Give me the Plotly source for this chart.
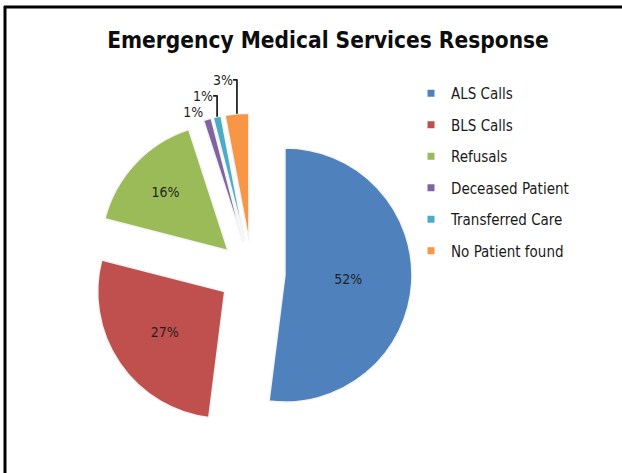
import plotly.graph_objects as go

categories = ["ALS Calls", "BLS Calls", "Refusals", "Deceased Patient", "Transferred Care", "No Patient found"]
values = [52, 27, 16, 1, 1, 3]
colors = ["#4F81BD", "#C0504D", "#9BBB59", "#8064A2", "#4BACC6", "#F79646"]
text_positions = ["inside", "inside", "inside", "outside", "outside", "outside"]

W, H = 622, 473
FONT = "Liberation Sans Narrow, DejaVu Sans Condensed, Open Sans, sans-serif"

# pie box in pixels
cx, cy, R, pull = 252, 273, 127, 0.26
half = R * (1 + pull)
dom_x = [(cx - half) / W, (cx + half) / W]
dom_y = [1 - (cy + half) / H, 1 - (cy - half) / H]

fig = go.Figure()
fig.add_trace(go.Pie(
    labels=categories,
    values=values,
    sort=False,
    direction="clockwise",
    rotation=0,
    pull=[pull] * len(values),
    marker=dict(colors=colors, line=dict(color="#F4F4F4", width=1.5)),
    textposition=text_positions,
    texttemplate="%{percent:.0%}",
    textfont=dict(family=FONT, size=14, color="#1F1F1F"),
    insidetextorientation="horizontal",
    showlegend=False,
    domain=dict(x=dom_x, y=dom_y),
    automargin=False,
))

for name, col in zip(categories, colors):
    fig.add_trace(go.Scatter(
        x=[None], y=[None], mode="markers", name=name, legendgroup=name,
        marker=dict(symbol="square", size=7, color=col),
    ))

fig.update_layout(
    width=W, height=H,
    margin=dict(l=0, r=0, t=0, b=0),
    paper_bgcolor="white", plot_bgcolor="white",
    title=dict(text="<b>Emergency Medical Services Response</b>", x=328 / W, xanchor="center",
               y=1 - 40 / H, yanchor="middle", font=dict(family=FONT, size=22.5, color="#0D0D0D")),
    xaxis=dict(visible=False), yaxis=dict(visible=False),
    legend=dict(x=411 / W, y=1 - 77 / H, xanchor="left", yanchor="top",
                font=dict(family=FONT, size=15, color="#1A1A1A"),
                tracegroupgap=9, itemwidth=30, bgcolor="rgba(0,0,0,0)"),
    shapes=[
        dict(type="line", xref="paper", yref="paper", x0=4 / W, x1=1.0, y0=1 - 7 / H, y1=1 - 7 / H,
             line=dict(color="black", width=3)),
        dict(type="line", xref="paper", yref="paper", x0=5 / W, x1=5 / W, y0=0, y1=1 - 6 / H,
             line=dict(color="black", width=3)),
    ],
)

fig.write_html(
    "out.html", config={"displayModeBar": False},
    post_script=("document.body.style.margin='0';document.body.style.overflow='hidden';"
                 "document.documentElement.style.overflow='hidden';"),
)
